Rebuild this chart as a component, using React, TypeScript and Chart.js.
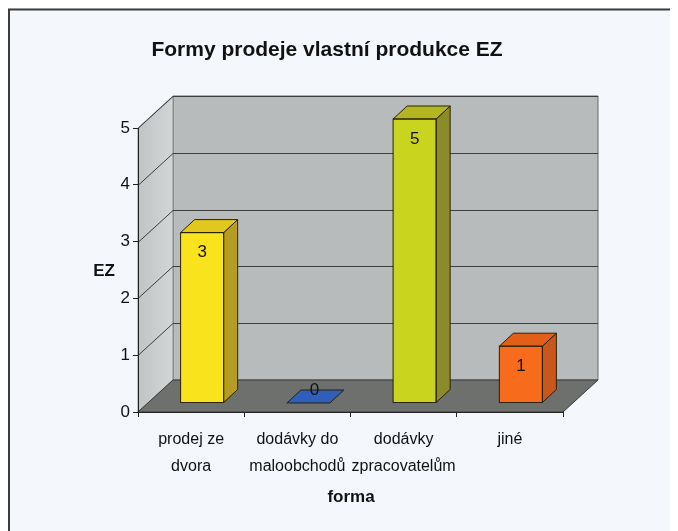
import React, { useEffect, useRef } from "react";
import { Chart, registerables } from "chart.js";
Chart.register(...registerables);

const categories = [["prodej ze", "dvora"], ["dodávky do", "maloobchodů"], ["dodávky", "zpracovatelům"], ["jiné"]];
const values = [3, 0, 5, 1];
const yTicks = [0, 1, 2, 3, 4, 5];
const titleText = "Formy prodeje vlastní produkce EZ";
const xTitleText = "forma";
const yTitleText = "EZ";
const frontColors = ["#f8e31c", "#2f5fba", "#c9d41f", "#f66b1c"];
const topColors = ["#e2c81e", "#2f5fba", "#b3b521", "#e25f1a"];
const sideColors = ["#b49d22", "#24488e", "#8c8b2a", "#c9561b"];

const W = 670;
const H = 523;
const AREA = { left: 130, right: 555, top: 120, bottom: 404 };
const DEPTH = { x: 35, y: -32 };
const BAR_OFF = { x: 11, y: -9 };
const BAR_DEPTH = { x: 14, y: -13 };
const FONT = "'Liberation Sans', Arial, sans-serif";

function poly(ctx: CanvasRenderingContext2D, pts: number[][], fill: string | CanvasGradient, stroke?: string, lw = 1) {
  ctx.beginPath();
  ctx.moveTo(pts[0][0], pts[0][1]);
  for (let i = 1; i < pts.length; i++) ctx.lineTo(pts[i][0], pts[i][1]);
  ctx.closePath();
  ctx.fillStyle = fill;
  ctx.fill();
  if (stroke) {
    ctx.strokeStyle = stroke;
    ctx.lineWidth = lw;
    ctx.stroke();
  }
}

const scene3d = {
  id: "scene3d",
  beforeDraw(chart: any) {
    const ctx: CanvasRenderingContext2D = chart.ctx;
    const { left, right, top, bottom } = chart.chartArea;
    const ys = chart.scales.y;
    ctx.save();
    ctx.fillStyle = "#f4f7fb";
    ctx.fillRect(0, 0, chart.width, chart.height);
    ctx.strokeStyle = "#3c3c3c";
    ctx.lineWidth = 2;
    ctx.beginPath();
    ctx.moveTo(chart.width, 1.5);
    ctx.lineTo(1, 1.5);
    ctx.lineTo(1, chart.height);
    ctx.stroke();

    const dx = DEPTH.x, dy = DEPTH.y;
    poly(ctx, [[left + dx, top + dy], [right + dx, top + dy], [right + dx, bottom + dy], [left + dx, bottom + dy]], "#b7bbbb", "#6a6a6a");
    const g = ctx.createLinearGradient(left, 0, left + dx, 0);
    g.addColorStop(0, "#c0c4c4");
    g.addColorStop(1, "#d2d6d6");
    poly(ctx, [[left, top], [left + dx, top + dy], [left + dx, bottom + dy], [left, bottom]], g, "#8a8a8a");
    poly(ctx, [[left, bottom], [right, bottom], [right + dx, bottom + dy], [left + dx, bottom + dy]], "#6e706e", "#3a3a3a");
    ctx.strokeStyle = "#3d3d3d";
    ctx.lineWidth = 1;
    yTicks.forEach((v) => {
      if (v === 0) return;
      const py = Math.round(ys.getPixelForValue(v)) + 0.5;
      ctx.beginPath();
      ctx.moveTo(left, py);
      ctx.lineTo(left + dx, py + dy);
      ctx.lineTo(right + dx, py + dy);
      ctx.stroke();
    });
    ctx.restore();
  },
  beforeDatasetsDraw(chart: any) {
    chart.ctx.save();
    chart.ctx.translate(BAR_OFF.x, BAR_OFF.y);
  },
  afterDatasetsDraw(chart: any) {
    const ctx: CanvasRenderingContext2D = chart.ctx;
    const meta = chart.getDatasetMeta(0);
    const bx = BAR_DEPTH.x, by = BAR_DEPTH.y;
    meta.data.forEach((el: any, i: number) => {
      const p = el.getProps(["x", "y", "base", "width"], true);
      const x0 = p.x - p.width / 2;
      const x1 = p.x + p.width / 2;
      const yt = Math.min(p.y, p.base);
      const yb = p.base;
      const stroke = "#2a2200";
      if (yb - yt > 0.5) {
        poly(ctx, [[x1, yt], [x1 + bx, yt + by], [x1 + bx, yb + by], [x1, yb]], sideColors[i], stroke);
      }
      poly(ctx, [[x0, yt], [x1, yt], [x1 + bx, yt + by], [x0 + bx, yt + by]], topColors[i], stroke);
      if (yb - yt > 0.5) {
        ctx.strokeStyle = stroke;
        ctx.lineWidth = 1;
        ctx.strokeRect(x0, yt, x1 - x0, yb - yt);
      }
      ctx.fillStyle = "#111";
      ctx.font = `17px ${FONT}`;
      ctx.textAlign = "center";
      ctx.textBaseline = "middle";
      const ly = values[i] > 0 ? yt + 20 : yt - 13;
      ctx.fillText(String(values[i]), p.x + (values[i] > 0 ? 0 : 6), ly);
    });
    ctx.restore();
  },
  afterDraw(chart: any) {
    const ctx: CanvasRenderingContext2D = chart.ctx;
    ctx.save();
    ctx.fillStyle = "#111";
    ctx.textAlign = "center";
    ctx.textBaseline = "middle";
    ctx.font = `bold 21px ${FONT}`;
    ctx.fillText(titleText, 319, 42);
    ctx.font = `bold 17px ${FONT}`;
    ctx.fillText(yTitleText, 96, 263);
    ctx.fillText(xTitleText, 343, 489);
    ctx.restore();
  },
};

export default function App() {
  const ref = useRef<HTMLCanvasElement | null>(null);
  useEffect(() => {
    if (!ref.current) return;
    const chart = new Chart(ref.current, {
      type: "bar",
      data: {
        labels: categories,
        datasets: [
          {
            data: values,
            backgroundColor: frontColors,
            borderWidth: 0,
            barPercentage: 0.405,
            categoryPercentage: 1,
            clip: false,
          } as any,
        ],
      },
      options: {
        responsive: false,
        animation: false,
        events: [],
        layout: {
          padding: { left: 0, top: AREA.top, right: W - AREA.right, bottom: H - AREA.bottom - 64 },
        },
        plugins: { legend: { display: false }, tooltip: { enabled: false }, title: { display: false } },
        scales: {
          x: {
            type: "category",
            offset: true,
            afterFit: (s: any) => {
              s.height = 64;
            },
            grid: { offset: true, drawOnChartArea: false, drawTicks: true, tickLength: 5, color: "#222" },
            border: { display: true, color: "#222", width: 1 },
            ticks: {
              color: "#111",
              font: { family: FONT, size: 16, lineHeight: 1.7 },
              padding: 9,
              maxRotation: 0,
              autoSkip: false,
            },
          },
          y: {
            min: 0,
            max: 5,
            afterFit: (s: any) => {
              s.width = AREA.left;
            },
            afterBuildTicks: (s: any) => {
              s.ticks = yTicks.map((v) => ({ value: v }));
            },
            grid: { drawOnChartArea: false, drawTicks: true, tickLength: 5, color: "#222" },
            border: { display: true, color: "#222", width: 1 },
            ticks: { color: "#111", font: { family: FONT, size: 17 }, padding: 3 },
          },
        },
      },
      plugins: [scene3d],
    });
    return () => chart.destroy();
  }, []);
  return <canvas ref={ref} width={W} height={H} style={{ display: "block", width: W, height: H }} />;
}
